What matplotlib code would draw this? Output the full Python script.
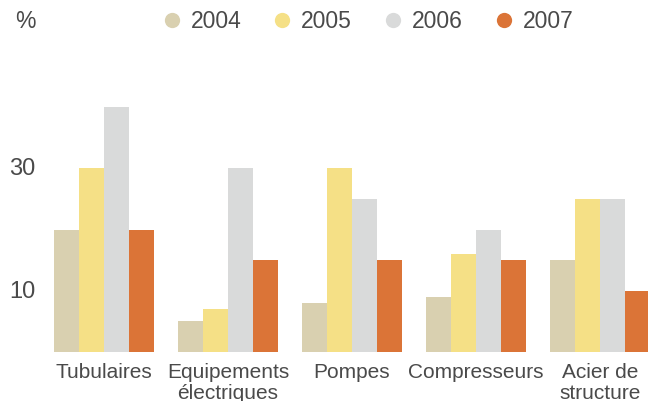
import matplotlib
matplotlib.use("Agg")
import matplotlib.pyplot as plt
from matplotlib.lines import Line2D
from matplotlib.transforms import ScaledTranslation
import numpy as np

plt.rcParams['font.family'] = ['Liberation Sans', 'DejaVu Sans']

categories = ["Tubulaires", "Equipements\nélectriques", "Pompes", "Compresseurs", "Acier de\nstructure"]
years = ["2004", "2005", "2006", "2007"]
v2004 = [20, 5, 8, 9, 15]
v2005 = [30, 7, 30, 16, 25]
v2006 = [40, 30, 25, 20, 25]
v2007 = [20, 15, 15, 15, 10]
series = [v2004, v2005, v2006, v2007]
colors = ["#D9D0B0", "#F5E086", "#D9DADA", "#DB7437"]
yticks = [10, 30]

text_color = "#4a4a4a"
W, H = 648, 401
fig = plt.figure(figsize=(W / 100, H / 100), dpi=100)
left = 42 / W
bottom = 1 - 352 / H
ax = fig.add_axes([left, bottom, 1 - left, 1 - bottom])

x = np.arange(len(categories))
width = 0.2
offsets = [-0.3, -0.1, 0.1, 0.3]
for s, c, o in zip(series, colors, offsets):
    ax.bar(x + o, s, width=width, color=c, linewidth=0)

ax.set_xlim(-0.5, (648 - 104) / 124)
ax.set_ylim(0, 352 / 6.12)
for sp in ax.spines.values():
    sp.set_visible(False)
ax.set_yticks(yticks)
ax.set_yticklabels([str(t) for t in yticks])
ax.set_xticks(x)
ax.set_xticklabels(categories, linespacing=1.1)
ax.tick_params(axis='both', length=0, labelcolor=text_color)
ax.tick_params(axis='x', labelsize=15, pad=8)
ax.tick_params(axis='y', labelsize=17, pad=5)
for lbl in ax.get_yticklabels():
    lbl.set_transform(lbl.get_transform() + ScaledTranslation(0, 1.5 / 100, fig.dpi_scale_trans))

fig.text(15 / W, 1 - 22 / H, "%", fontsize=16.5, color=text_color, va='center', ha='left')

handles = [Line2D([0], [0], marker='o', linestyle='none', markersize=11,
                  markerfacecolor=c, markeredgewidth=0) for c in colors]
leg = fig.legend(handles, years, loc='center', bbox_to_anchor=(367 / W, 1 - 22 / H),
                 ncol=4, frameon=False, fontsize=16.5, handlelength=1.0,
                 handletextpad=0.33, columnspacing=1.29, borderpad=0, borderaxespad=0)
for t in leg.get_texts():
    t.set_color(text_color)

fig.savefig("out.png", dpi=100)
